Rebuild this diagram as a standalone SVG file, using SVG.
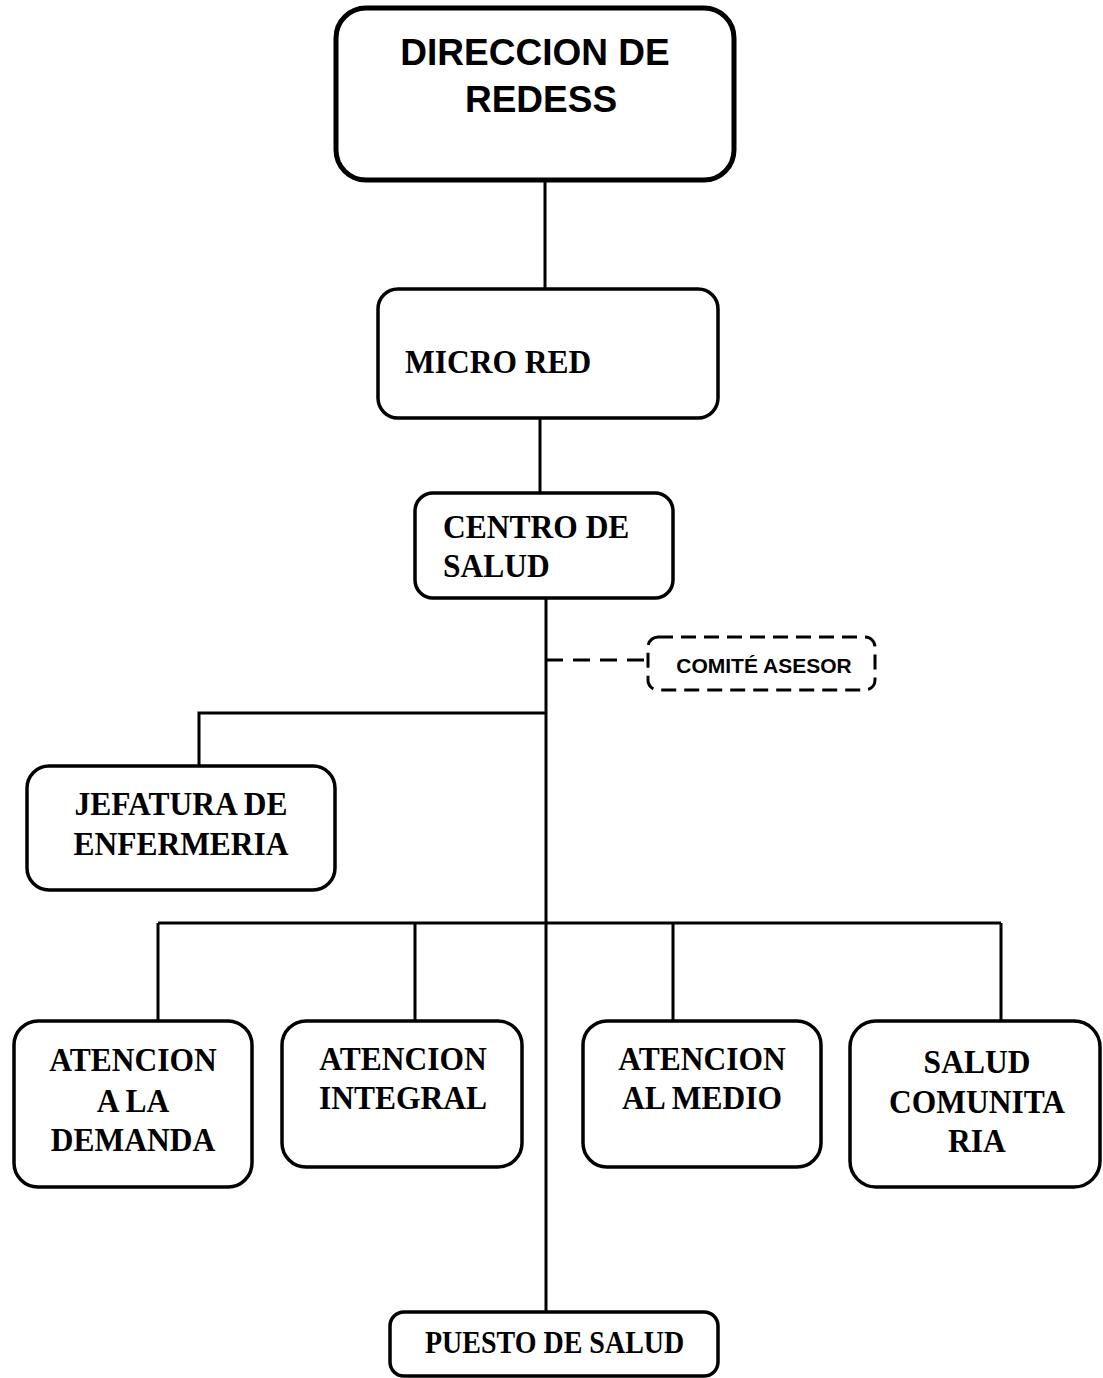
<svg xmlns="http://www.w3.org/2000/svg" width="1103" height="1378" viewBox="0 0 1103 1378">
  <style>
    .box { fill: #ffffff; stroke: #000000; stroke-width: 3.5; }
    .top { fill: #ffffff; stroke: #000000; stroke-width: 5; }
    .dash { fill: #ffffff; stroke: #000000; stroke-width: 3; stroke-dasharray: 15 8; }
    .line { fill: none; stroke: #000000; stroke-width: 3; }
    .dline { fill: none; stroke: #000000; stroke-width: 3; stroke-dasharray: 17 10; }
    .sans { font-family: "Liberation Sans", Arial, sans-serif; font-weight: bold; fill: #000000; }
    .serif { font-family: "Liberation Serif", "Times New Roman", serif; font-weight: bold; fill: #000000; font-size: 31.5px; }
    .mid { text-anchor: middle; }
  </style>
  <rect width="1103" height="1378" fill="#ffffff"/>

  <!-- connectors -->
  <g id="connectors">
    <line class="line" x1="545" y1="180" x2="545" y2="289"/>
    <line class="line" x1="540" y1="418" x2="540" y2="493"/>
    <line class="line" x1="546" y1="598" x2="546" y2="1312"/>
    <line class="dline" x1="546" y1="660" x2="648" y2="660"/>
    <path class="line" d="M546 713 H199 V766"/>
    <line class="line" x1="158" y1="923" x2="1001" y2="923"/>
    <line class="line" x1="158" y1="923" x2="158" y2="1021"/>
    <line class="line" x1="415" y1="923" x2="415" y2="1021"/>
    <line class="line" x1="673" y1="923" x2="673" y2="1021"/>
    <line class="line" x1="1001" y1="923" x2="1001" y2="1021"/>
  </g>

  <g id="direccion">
    <rect class="top" x="336" y="8" width="398" height="172" rx="30"/>
    <text class="sans mid" x="535" y="65" font-size="37">DIRECCION DE</text>
    <text class="sans mid" x="541" y="112" font-size="37">REDESS</text>
  </g>

  <g id="micro-red">
    <rect class="box" x="378" y="289" width="340" height="129" rx="20"/>
    <text class="serif" transform="translate(405 373) scale(1 1.1)">MICRO RED</text>
  </g>

  <g id="centro-salud">
    <rect class="box" x="415" y="493" width="258" height="105" rx="18"/>
    <text class="serif" transform="translate(443 538) scale(1 1.1)">CENTRO DE</text>
    <text class="serif" transform="translate(443 577) scale(1 1.1)">SALUD</text>
  </g>

  <g id="comite-asesor">
    <rect class="dash" x="648" y="637" width="227" height="53" rx="10"/>
    <text class="sans mid" x="764" y="673" font-size="21">COMITÉ ASESOR</text>
  </g>

  <g id="jefatura">
    <rect class="box" x="27" y="766" width="308" height="124" rx="22"/>
    <text class="serif mid" transform="translate(181 815) scale(1 1.1)">JEFATURA DE</text>
    <text class="serif mid" transform="translate(181 855) scale(1 1.1)">ENFERMERIA</text>
  </g>

  <g id="atencion-demanda">
    <rect class="box" x="14" y="1021" width="238" height="166" rx="24"/>
    <text class="serif mid" transform="translate(133 1071) scale(1 1.1)">ATENCION</text>
    <text class="serif mid" transform="translate(133 1112) scale(1 1.1)">A LA</text>
    <text class="serif mid" transform="translate(133 1151) scale(1 1.1)">DEMANDA</text>
  </g>

  <g id="atencion-integral">
    <rect class="box" x="282" y="1021" width="240" height="146" rx="24"/>
    <text class="serif mid" transform="translate(403 1070) scale(1 1.1)">ATENCION</text>
    <text class="serif mid" transform="translate(403 1109) scale(1 1.1)">INTEGRAL</text>
  </g>

  <g id="atencion-medio">
    <rect class="box" x="583" y="1021" width="238" height="146" rx="24"/>
    <text class="serif mid" transform="translate(702 1070) scale(1 1.1)">ATENCION</text>
    <text class="serif mid" transform="translate(702 1109) scale(1 1.1)">AL MEDIO</text>
  </g>

  <g id="salud-comunitaria">
    <rect class="box" x="850" y="1021" width="250" height="166" rx="26"/>
    <text class="serif mid" transform="translate(977 1073) scale(1 1.1)">SALUD</text>
    <text class="serif mid" transform="translate(977 1113) scale(1 1.1)">COMUNITA</text>
    <text class="serif mid" transform="translate(977 1152) scale(1 1.1)">RIA</text>
  </g>

  <g id="puesto-salud">
    <rect class="box" x="390" y="1312" width="328" height="64" rx="14"/>
    <text class="serif" transform="translate(425 1353) scale(1 1.1)" style="font-size:28px">PUESTO DE SALUD</text>
  </g>
</svg>
